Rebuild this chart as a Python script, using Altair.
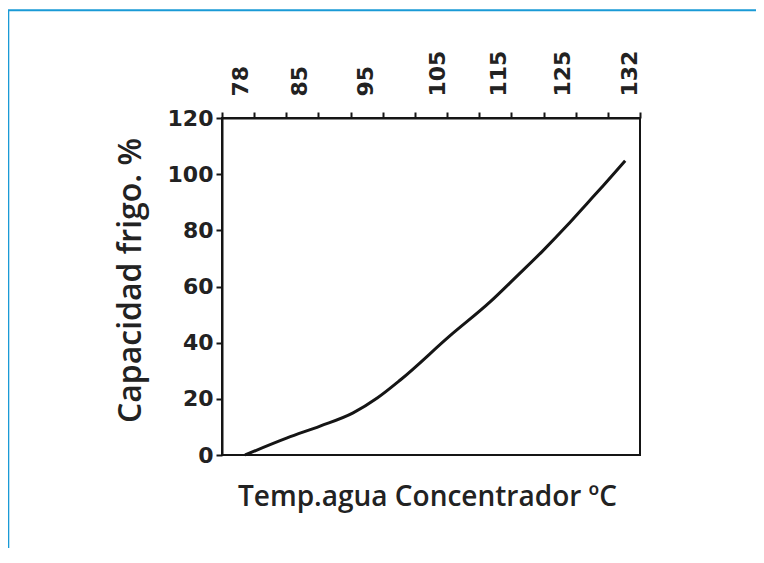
import altair as alt
import pandas as pd

# Curve (temperature as read against the top labels)
temp = [78.6, 83.6, 88.2, 93.2, 96.7, 99.9, 107.1, 113.7, 118.0, 122.0, 125.5, 127.6, 129.3, 131.6]
cap = [0.0, 6.1, 10.3, 15.0, 20.3, 26.7, 42.4, 54.5, 63.8, 72.7, 81.6, 89.5, 95.9, 104.8]

x_labels = [78, 85, 95, 105, 115, 125, 132]
y_ticks = [0, 20, 40, 60, 80, 100, 120]
minor_ticks = list(range(14))

# the original top axis is unevenly spaced: piecewise-linear scale
x_domain = [75.9, 78, 85, 95, 105, 115, 125, 132, 133.2]
x_range = [0, 18, 77, 143, 215, 276, 340, 407, 418]

W, H = 418, 337
INK = "#151515"
LABEL_FONT = "DejaVu Sans"
TITLE_FONT = "Open Sans"

line_df = pd.DataFrame({"temp": temp, "cap": cap})
tick_df = pd.DataFrame({"t": minor_ticks})

frame = alt.Chart(alt.Data(values=[{}])).mark_rect(
    fillOpacity=0, stroke="#1a9ad6", strokeWidth=2
).encode(
    x=alt.value(-213.7), x2=alt.value(1000),
    y=alt.value(-107.7), y2=alt.value(1000),
)

ticks_layer = alt.Chart(tick_df).mark_point(opacity=0).encode(
    x=alt.X("t:Q", scale=alt.Scale(domain=[0, 13], nice=False, zero=False),
            axis=alt.Axis(orient="top", labels=False, ticks=True, tickSize=6,
                          tickWidth=2, tickColor=INK, domain=True, domainWidth=2,
                          domainColor=INK, grid=False, title=None))
)

xtitle_layer = alt.Chart(tick_df).mark_point(opacity=0).encode(
    x=alt.X("t:Q", scale=alt.Scale(domain=[0, 13], nice=False, zero=False),
            axis=alt.Axis(orient="bottom", labels=False, ticks=False, domain=False,
                          grid=False, title="Temp.agua Concentrador ºC",
                          titleFont=TITLE_FONT, titleFontSize=28, titleFontWeight=600,
                          titleColor="#222", titlePadding=28, titleX=205))
)

line = alt.Chart(line_df).mark_line(color=INK, strokeWidth=3, interpolate="monotone").encode(
    x=alt.X("temp:Q", scale=alt.Scale(domain=x_domain, range=x_range),
            axis=alt.Axis(orient="top", values=x_labels, ticks=False, tickSize=0,
                          domain=False, grid=False, labelAngle=-90, labelAlign="left",
                          labelBaseline="middle", labelPadding=22, labelFlush=False,
                          labelOverlap=False, labelFont=LABEL_FONT, labelFontSize=22,
                          labelFontWeight="bold", labelColor="#222", title=None)),
    y=alt.Y("cap:Q", scale=alt.Scale(domain=[0, 120], nice=False),
            axis=alt.Axis(values=y_ticks, grid=False, domain=True, domainWidth=2,
                          domainColor=INK, ticks=True, tickSize=6, tickWidth=2,
                          tickColor=INK, labelPadding=3, labelFont=LABEL_FONT,
                          labelFontSize=22, labelFontWeight="bold", labelColor="#222",
                          title="Capacidad frigo. %", titleFont=TITLE_FONT,
                          titleFontSize=32, titleFontWeight=600, titleColor="#222",
                          titlePadding=20, titleY=162)),
)

chart = alt.layer(frame, ticks_layer, xtitle_layer, line).resolve_scale(
    x="independent"
).properties(
    width=W, height=H,
    padding={"left": 214, "top": 110, "right": 116, "bottom": 93},
    autosize=alt.AutoSizeParams(type="none"),
    background="white",
).configure_view(stroke=INK, strokeWidth=2)

chart.save("out.html", embed_options={"renderer": "svg", "actions": False})
